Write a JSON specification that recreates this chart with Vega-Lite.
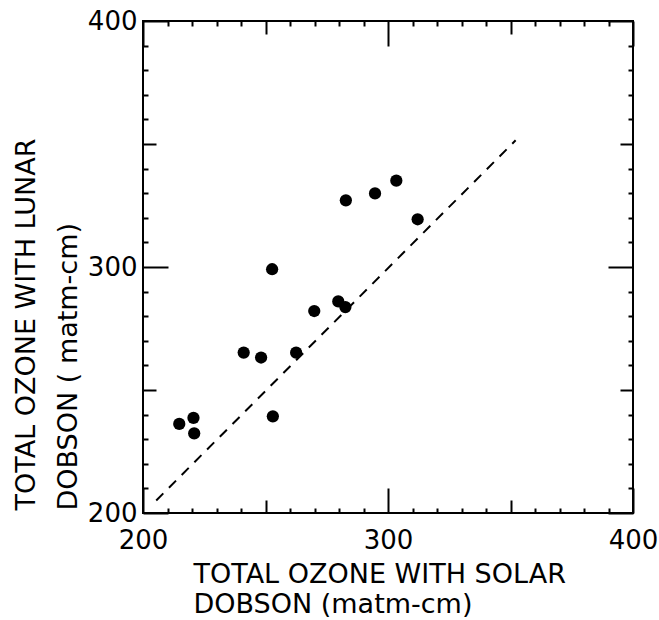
{
  "$schema": "https://vega.github.io/schema/vega-lite/v6.json",
  "width": 490,
  "height": 492,
  "autosize": "none",
  "padding": {"left": 143, "top": 21, "right": 26, "bottom": 107},
  "background": "white",
  "config": {
    "view": {"stroke": "black", "strokeWidth": 2},
    "axis": {
      "domain": false,
      "grid": false,
      "tickColor": "black",
      "tickWidth": 2,
      "labelColor": "black",
      "labelFont": "DejaVu Sans",
      "labelFontSize": 26,
      "labelFlush": false,
      "labelOverlap": false,
      "titleColor": "black",
      "titleFont": "DejaVu Sans",
      "titleFontSize": 27,
      "titleFontWeight": "normal"
    }
  },
  "datasets": {
    "points": [
      {"solar": 214.8, "lunar": 236.2},
      {"solar": 220.6, "lunar": 238.7},
      {"solar": 220.9, "lunar": 232.4},
      {"solar": 241.1, "lunar": 265.2},
      {"solar": 248.2, "lunar": 263.2},
      {"solar": 262.5, "lunar": 265.2},
      {"solar": 252.7, "lunar": 299.1},
      {"solar": 253.0, "lunar": 239.3},
      {"solar": 269.9, "lunar": 282.1},
      {"solar": 279.7, "lunar": 286.0},
      {"solar": 282.6, "lunar": 283.7},
      {"solar": 282.8, "lunar": 327.1},
      {"solar": 294.7, "lunar": 329.9},
      {"solar": 303.4, "lunar": 335.1},
      {"solar": 312.1, "lunar": 319.4}
    ],
    "line": [
      {"solar": 205.4, "lunar": 205.1},
      {"solar": 352.1, "lunar": 351.5}
    ]
  },
  "layer": [
    {
      "data": {"name": "line"},
      "mark": {"type": "line", "color": "black", "strokeWidth": 2, "strokeDash": [10, 8]},
      "encoding": {
        "x": {
          "field": "solar", "type": "quantitative",
          "scale": {"domain": [200, 400], "nice": false, "zero": false},
          "axis": {
            "orient": "top", "title": null, "labels": false,
            "values": [200,210,220,230,240,250,260,270,280,290,300,310,320,330,340,350,360,370,380,390,400],
            "tickSize": {"expr": "-5 - 8 * (datum.value % 50 === 0) - 12 * (datum.value % 100 === 0)"}
          }
        },
        "y": {
          "field": "lunar", "type": "quantitative",
          "scale": {"domain": [200, 400], "nice": false, "zero": false},
          "axis": {
            "orient": "right", "title": null, "labels": false,
            "values": [200,210,220,230,240,250,260,270,280,290,300,310,320,330,340,350,360,370,380,390,400],
            "tickSize": {"expr": "-5 - 8 * (datum.value % 50 === 0) - 12 * (datum.value % 100 === 0)"}
          }
        }
      }
    },
    {
      "data": {"name": "points"},
      "mark": {"type": "circle", "size": 150, "color": "black", "opacity": 1},
      "encoding": {
        "x": {
          "field": "solar", "type": "quantitative",
          "scale": {"domain": [200, 400], "nice": false, "zero": false},
          "axis": {
            "orient": "bottom",
            "title": ["TOTAL OZONE WITH SOLAR", "DOBSON (matm-cm)"],
            "titleAlign": "left",
            "titleBaseline": "top",
            "titleX": 50,
            "titleY": 48,
            "titleLineHeight": 30,
            "values": [200,210,220,230,240,250,260,270,280,290,300,310,320,330,340,350,360,370,380,390,400],
            "labelExpr": "datum.value % 100 === 0 ? datum.label : ''",
            "labelPadding": 39,
            "tickSize": {"expr": "-5 - 8 * (datum.value % 50 === 0) - 12 * (datum.value % 100 === 0)"}
          }
        },
        "y": {
          "field": "lunar", "type": "quantitative",
          "scale": {"domain": [200, 400], "nice": false, "zero": false},
          "axis": {
            "orient": "left",
            "title": ["TOTAL OZONE WITH LUNAR", "DOBSON ( matm-cm)"],
            "titleAngle": -90,
            "titleAlign": "left",
            "titleBaseline": "top",
            "titleX": -130,
            "titleY": 489,
            "titleLineHeight": 42,
            "values": [200,210,220,230,240,250,260,270,280,290,300,310,320,330,340,350,360,370,380,390,400],
            "labelExpr": "datum.value % 100 === 0 ? datum.label : ''",
            "labelPadding": 31,
            "tickSize": {"expr": "-5 - 8 * (datum.value % 50 === 0) - 12 * (datum.value % 100 === 0)"}
          }
        }
      }
    }
  ],
  "resolve": {"axis": {"x": "independent", "y": "independent"}}
}
